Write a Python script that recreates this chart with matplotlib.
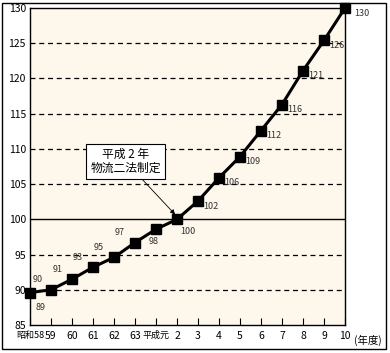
import matplotlib
matplotlib.use('Agg')
import matplotlib.pyplot as plt
from matplotlib.patches import Rectangle

plt.rcParams['font.family'] = ['Noto Sans CJK JP', 'DejaVu Sans']

# data
years = ['昭和58', '59', '60', '61', '62', '63', '平成元', '2',
         '3', '4', '5', '6', '7', '8', '9', '10']
values = [89.6, 90.0, 91.5, 93.2, 94.6, 96.7, 98.6, 100.0,
          102.6, 105.9, 108.9, 112.6, 116.3, 121.1, 125.4, 130.0]
labels = ['89', '90', '91', '93', '95', '97', '98', '100',
          '102', '106', '109', '112', '116', '121', '126', '130']
yticks = [85, 90, 95, 100, 105, 110, 115, 120, 125, 130]

x = list(range(len(years)))

fig = plt.figure(figsize=(3.9, 3.53), dpi=100)
fig.patches.append(Rectangle((2/390, 4/353), 384/390, 346/353, transform=fig.transFigure,
                             fill=False, edgecolor='black', lw=1))
ax = fig.add_axes([30/390, 28/353, 315/390, 317/353])
ax.set_facecolor('#fdf7ec')

for v in yticks[1:-1]:
    if v == 100:
        ax.axhline(v, color='black', lw=1.0, zorder=1)
    else:
        ax.axhline(v, color='black', lw=0.9, ls=(0, (4, 3)), zorder=1)

ax.plot(x, values, color='black', lw=2.2, marker='s', ms=6.5, zorder=3, clip_on=False)

# value labels
offsets = {0: (4, -14), 1: (-13, 4), 2: (-14, 4), 3: (-15, 4), 4: (-15, 4), 5: (-15, 4),
           6: (-5, -12), 7: (2, -12), 15: (7, -7)}
for i, (v, s) in enumerate(zip(values, labels)):
    dx, dy = offsets.get(i, (4, -7))
    ax.annotate(s, (i, v), xytext=(dx, dy), textcoords='offset points',
                fontsize=6.5, color='#333333', ha='left', va='bottom',
                annotation_clip=False)

ax.annotate('平成 2 年\n物流二法制定', xy=(7, 100.4), xytext=(4.55, 108.2),
            fontsize=8.5, ha='center', va='center', linespacing=1.1,
            bbox=dict(boxstyle='square,pad=0.35', fc='white', ec='black', lw=0.8),
            arrowprops=dict(arrowstyle='-|>', color='black', lw=0.6,
                            mutation_scale=7, shrinkA=0, shrinkB=2))

ax.set_xlim(0, len(years) - 1)
ax.set_ylim(85, 130)
ax.set_xticks(x)
ax.set_xticklabels(years, fontsize=7.5)
ax.set_yticks(yticks)
ax.set_yticklabels([str(t) for t in yticks], fontsize=7.5)
ax.tick_params(axis='x', direction='in', length=5, width=0.8, pad=4)
ax.tick_params(axis='y', length=0, pad=3)
ax.get_xticklabels()[0].set_fontsize(6.5)
ax.get_xticklabels()[6].set_fontsize(6.5)
for sp in ax.spines.values():
    sp.set_linewidth(1.0)

ax.text(15.42, -0.03, '(年度)', transform=ax.get_xaxis_transform(),
        fontsize=7.5, ha='left', va='top')

fig.savefig('out.png', dpi=100)
